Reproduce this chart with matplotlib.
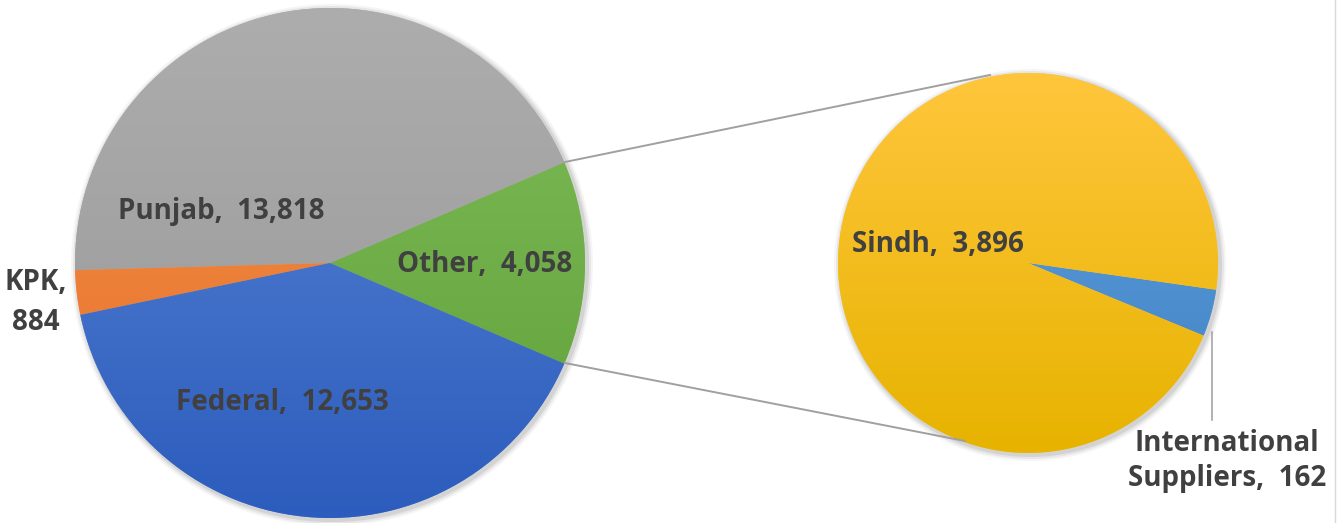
import matplotlib.pyplot as plt
import numpy as np
from matplotlib.colors import LinearSegmentedColormap

# main pie (counterclockwise, starting with the "Other" slice)
main_labels = ['Other', 'Punjab', 'KPK', 'Federal']
main_values = [4058, 13818, 884, 12653]
main_top = ['#7fbd5a', '#adadad', '#f5954f', '#5c88d6']
main_bottom = ['#5f9f37', '#979797', '#e56d25', '#2c5cbd']

# secondary pie breaking down "Other"
sub_labels = ['International\nSuppliers', 'Sindh']
sub_values = [162, 3896]
sub_top = ['#62a3de', '#ffc63c']
sub_bottom = ['#3f80c4', '#e7b300']

W, H = 1343, 523
TXT = '#404040'
plt.rcParams['font.family'] = ['Open Sans', 'DejaVu Sans']

fig = plt.figure(figsize=(W / 100, H / 100), dpi=100)
ax = fig.add_axes([0, 0, 1, 1])
ax.set_xlim(0, W)
ax.set_ylim(0, H)
ax.set_aspect('equal')
ax.axis('off')


def gradient_pie(values, tops, bottoms, center, radius, start):
    cx, cy = center
    # soft shadow
    for k, a in [(6, 0.04), (4, 0.06), (2, 0.08)]:
        ax.add_patch(plt.Circle((cx + 2, cy - 2), radius + k, color='black',
                                alpha=a, lw=0, zorder=0))
    wedges, _ = ax.pie(values, colors=tops, center=center, radius=radius,
                       startangle=start, counterclock=True,
                       wedgeprops=dict(lw=0), frame=True)
    ext = [cx - radius, cx + radius, cy - radius, cy + radius]
    grad = np.linspace(0, 1, 256).reshape(-1, 1)
    for w, t, b in zip(wedges, tops, bottoms):
        cmap = LinearSegmentedColormap.from_list('g', [t, b])
        im = ax.imshow(grad, extent=ext, cmap=cmap, aspect='auto',
                       origin='upper', zorder=2)
        im.set_clip_path(w)
    return wedges


tot = sum(main_values)
other_deg = main_values[0] / tot * 360
gradient_pie(main_values, main_top, main_bottom, (330, 260), 255, -other_deg / 2)
sub_deg = sub_values[0] / sum(sub_values) * 360
gradient_pie(sub_values, sub_top, sub_bottom, (1028, 260), 190, -8.1 - sub_deg)

ax.set_xlim(0, W)
ax.set_ylim(0, H)
ax.axis('off')

# connector lines
ax.plot([565, 990], [H - 162, H - 75], color='#a0a0a0', lw=1.4, zorder=3)
ax.plot([565, 965], [H - 363, H - 441], color='#a0a0a0', lw=1.4, zorder=3)
# leader for International Suppliers
ax.plot([1212, 1212], [H - 332, H - 420], color='#a6a6a6', lw=1.2, zorder=3)
# frame edge at right
ax.plot([1335, 1335], [0, H], color='#d9d9d9', lw=1, zorder=3)

fs = 20
kw = dict(color=TXT, fontsize=fs, fontweight='bold', ha='center',
          va='center', zorder=5)
ax.text(221, H - 212, 'Punjab,  13,818', **kw)
ax.text(485, H - 265, 'Other,  4,058', **kw)
ax.text(282, H - 402, 'Federal,  12,653', **kw)
ax.text(36, H - 303, 'KPK,\n884', linespacing=1.5, **kw)
ax.text(938, H - 245, 'Sindh,  3,896', **kw)
ax.text(1227, H - 461, 'International\nSuppliers,  162', linespacing=1.3, **kw)

fig.savefig('out.png', dpi=100)
